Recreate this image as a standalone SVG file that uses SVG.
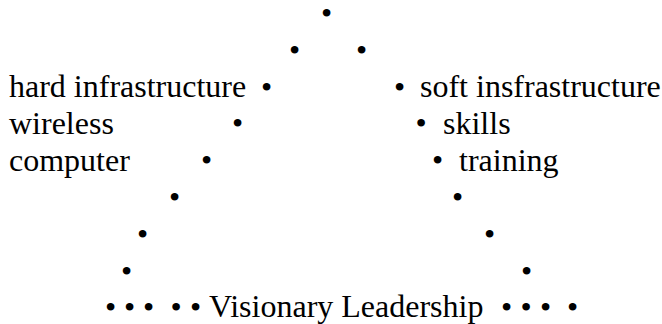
<svg xmlns="http://www.w3.org/2000/svg" width="662" height="324" viewBox="0 0 662 324">
<style>
.t{font-size:32px;fill:#000}
.b{text-anchor:middle}
</style>
<rect width="662" height="324" fill="#fff"/>
<g font-family="Liberation Serif, Times New Roman, serif">
<g id="apex">
<text class="t b" x="326.5" y="24">•</text>
<text class="t b" x="294.5" y="61">•</text>
<text class="t b" x="361.5" y="61">•</text>
</g>
<g id="left-side">
<text class="t" x="9" y="97">hard infrastructure</text>
<text class="t b" x="266.5" y="97.5">•</text>
<text class="t" x="9" y="134">wireless</text>
<text class="t b" x="237.5" y="134">•</text>
<text class="t" x="9" y="170.5">computer</text>
<text class="t b" x="206.5" y="170.5">•</text>
<text class="t b" x="174.5" y="207.5">•</text>
<text class="t b" x="142.5" y="244.5">•</text>
<text class="t b" x="126.5" y="281.5">•</text>
</g>
<g id="right-side">
<text class="t b" x="399.5" y="97.5">•</text>
<text class="t" x="420" y="97">soft insfrastructure</text>
<text class="t b" x="421" y="134">•</text>
<text class="t" x="443" y="134">skills</text>
<text class="t b" x="437.5" y="170.5">•</text>
<text class="t" x="459" y="170.5">training</text>
<text class="t b" x="457.5" y="207.5">•</text>
<text class="t b" x="489.5" y="244.5">•</text>
<text class="t b" x="526.5" y="281.5">•</text>
</g>
<g id="base">
<text class="t b" x="110.5" y="318">•</text>
<text class="t b" x="129.5" y="318">•</text>
<text class="t b" x="148.5" y="318">•</text>
<text class="t b" x="176" y="318">•</text>
<text class="t b" x="195.5" y="318">•</text>
<text class="t" x="209" y="317">Visionary Leadership</text>
<text class="t b" x="506.5" y="318">•</text>
<text class="t b" x="526" y="318">•</text>
<text class="t b" x="545.5" y="318">•</text>
<text class="t b" x="572.5" y="318">•</text>
</g>
</g>
</svg>
